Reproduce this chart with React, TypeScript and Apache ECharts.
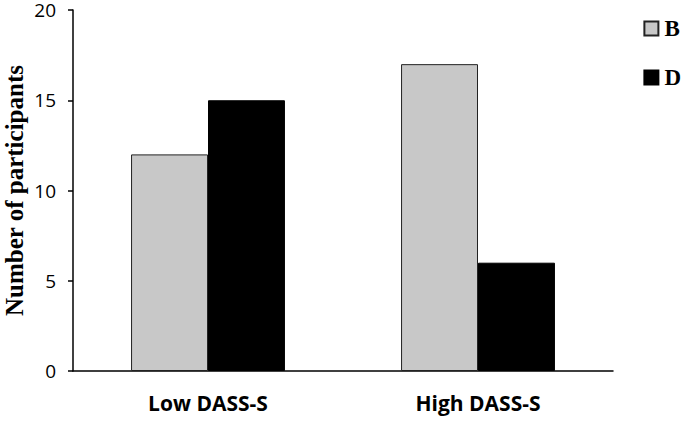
import React, { useEffect, useRef } from "react";
import * as echarts from "echarts";

const categories = ["Low DASS-S", "High DASS-S"];
const seriesB = [12, 17];
const seriesD = [15, 6];
const yTicks = [0, 5, 10, 15, 20];

export default function App() {
  const ref = useRef<HTMLDivElement>(null);
  useEffect(() => {
    const chart = echarts.init(ref.current!, undefined, { renderer: "svg" });
    chart.setOption({
      animation: false,
      backgroundColor: "#ffffff",
      grid: {
        left: 73,
        right: 73,
        top: 10,
        bottom: 50,
        containLabel: false,
        outerBoundsMode: "none",
      },
      legend: {
        orient: "vertical",
        right: 0,
        top: 12,
        itemWidth: 14,
        itemHeight: 14,
        itemGap: 26,
        icon: "rect",
        textStyle: {
          fontFamily: "Liberation Serif",
          fontWeight: "bold",
          fontSize: 23,
          color: "#000",
          padding: [0, 0, 0, 1],
        },
        data: ["B", "D"],
      },
      xAxis: {
        type: "category",
        data: categories,
        axisLine: { lineStyle: { color: "#000", width: 1.5 } },
        axisTick: { show: false },
        axisLabel: {
          fontFamily: "Open Sans",
          fontWeight: "bold",
          fontSize: 21,
          color: "#000",
          margin: 21,
        },
      },
      yAxis: {
        type: "value",
        min: yTicks[0],
        max: yTicks[yTicks.length - 1],
        interval: 5,
        name: "Number of participants",
        nameLocation: "middle",
        nameGap: 46,
        nameMoveOverlap: false,
        nameTextStyle: {
          fontFamily: "Liberation Serif",
          fontWeight: "bold",
          fontSize: 25,
          color: "#000",
        },
        axisLine: { show: true, lineStyle: { color: "#000", width: 1.5 } },
        axisTick: { show: true, length: 5, lineStyle: { color: "#000", width: 1.5 } },
        splitLine: { show: false },
        axisLabel: {
          fontFamily: "Open Sans",
          fontSize: 19,
          color: "#000",
          margin: 17,
        },
      },
      series: [
        {
          name: "B",
          type: "bar",
          data: seriesB,
          barGap: "0%",
          barCategoryGap: "43%",
          itemStyle: { color: "#c8c8c8", borderColor: "#222", borderWidth: 1 },
        },
        {
          name: "D",
          type: "bar",
          data: seriesD,
          barGap: "0%",
          barCategoryGap: "43%",
          itemStyle: { color: "#000", borderColor: "#000", borderWidth: 1 },
        },
      ],
    });
    return () => chart.dispose();
  }, []);
  return (
    <div
      ref={ref}
      style={{ position: "fixed", left: 0, top: 0, width: 686, height: 421 }}
    />
  );
}
